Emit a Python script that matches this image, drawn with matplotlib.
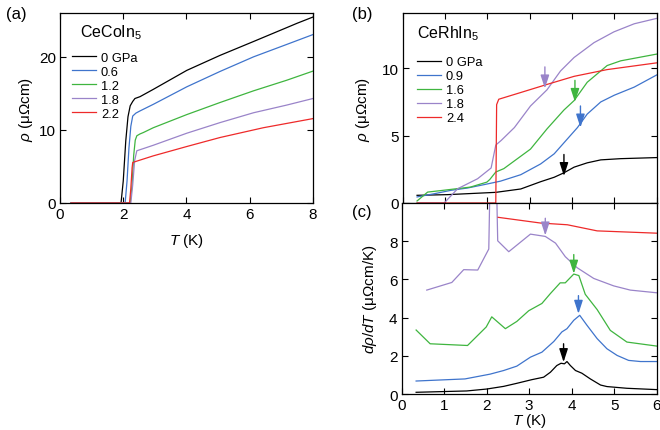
import numpy as np
import matplotlib
matplotlib.use("Agg")
import matplotlib.pyplot as plt

plt.rcParams["font.family"] = ["Liberation Sans", "DejaVu Sans"]
plt.rcParams["mathtext.fontset"] = "custom"
plt.rcParams["mathtext.rm"] = "Liberation Sans"
plt.rcParams["mathtext.it"] = "Liberation Sans:italic"
plt.rcParams["font.size"] = 10

c_k = "#000000"
c_b = "#3f74cc"
c_g = "#3fb53f"
c_p = "#9a84c9"
c_r = "#ee2a2a"

# ---- CeCoIn5, rho(T) ----
co_labels = ["0 GPa", "0.6", "1.2", "1.8", "2.2"]
co_T = [
    [0.35, 1.93, 2.0, 2.08, 2.15, 2.22, 2.3, 2.37, 2.53, 2.95, 4.01, 5.06,
     6.12, 7.17, 7.5, 8.0],
    [0.35, 2.06, 2.12, 2.18, 2.24, 2.3, 2.4, 2.53, 2.95, 4.01, 5.06, 6.12,
     7.17, 8.0],
    [0.35, 2.22, 2.28, 2.33, 2.38, 2.43, 2.53, 2.64, 2.95, 4.01, 5.06, 6.12,
     7.17, 8.0],
    [0.35, 2.24, 2.3, 2.36, 2.43, 2.64, 2.95, 4.01, 5.06, 6.12, 7.17, 8.0],
    [0.35, 2.2, 2.24, 2.28, 2.3, 2.53, 2.95, 4.01, 5.06, 6.43, 8.0],
]
co_rho = [
    [0.0, 0.0, 3.0, 8.5, 11.8, 13.3, 13.9, 14.3, 14.55, 15.55, 18.15, 20.2,
     22.1, 24.0, 24.6, 25.45],
    [0.0, 0.0, 3.0, 7.5, 10.5, 11.9, 12.3, 12.6, 13.5, 15.9, 18.0, 20.0,
     21.7, 23.05],
    [0.0, 0.0, 2.5, 6.5, 8.6, 9.2, 9.45, 9.65, 10.3, 12.1, 13.75, 15.35,
     16.8, 18.05],
    [0.0, 0.0, 2.5, 5.8, 7.15, 7.45, 7.9, 9.55, 11.0, 12.35, 13.4, 14.3],
    [0.0, 0.0, 2.0, 4.8, 5.55, 5.87, 6.45, 7.73, 8.96, 10.3, 11.55],
]

# ---- CeRhIn5, rho(T) ----
rh_labels = ["0 GPa", "0.9", "1.6", "1.8", "2.4"]
rh_T = [
    [0.34, 1.06, 1.53, 2.2, 2.79, 3.26, 3.58, 3.81, 4.05, 4.36, 4.68, 5.15, 6.0],
    [0.34, 0.75, 1.14, 1.53, 1.92, 2.31, 2.79, 3.26, 3.58, 3.89, 4.13, 4.36,
     4.68, 5.0, 5.47, 6.0],
    [0.34, 0.59, 0.9, 1.6, 1.99, 2.06, 2.2, 2.39, 3.02, 3.41, 3.81, 4.05, 4.36,
     4.83, 5.15, 6.0],
    [0.34, 0.98, 1.3, 1.77, 2.09, 2.2, 2.33, 2.64, 3.02, 3.41, 3.73, 4.05,
     4.52, 4.99, 5.47, 6.0],
    [0.34, 2.2, 2.22, 2.27, 2.79, 3.41, 4.05, 4.83, 6.0],
]
rh_rho = [
    [0.57, 0.62, 0.69, 0.79, 1.04, 1.58, 1.91, 2.24, 2.66, 2.98, 3.2, 3.29, 3.37],
    [0.45, 0.69, 0.94, 1.11, 1.36, 1.62, 2.1, 2.9, 3.65, 4.75, 5.6, 6.6,
     7.5, 8.0, 8.6, 9.5],
    [0.15, 0.81, 0.92, 1.18, 1.55, 1.75, 2.3, 2.55, 4.0, 5.5, 6.9, 7.6, 8.96,
     10.2, 10.55, 11.05],
    [0.0, 0.0, 1.06, 1.8, 2.6, 4.3, 4.65, 5.6, 7.2, 8.4, 9.8, 10.8,
     11.9, 12.7, 13.3, 13.7],
    [0.0, 0.0, 7.3, 7.7, 8.2, 8.8, 9.4, 9.9, 10.4],
]

# ---- CeRhIn5, d rho / dT ----
dr_T = [
    [0.34, 1.53, 2.0, 2.4, 2.71, 3.06, 3.34, 3.5, 3.65, 3.75, 3.83, 3.89,
     3.97, 4.09, 4.24, 4.44, 4.68, 4.83, 5.3, 6.0],
    [0.34, 1.49, 2.08, 2.4, 2.71, 3.03, 3.3, 3.58, 3.77, 3.89, 4.05, 4.19,
     4.36, 4.6, 4.83, 5.07, 5.34, 5.62, 6.0],
    [0.34, 0.67, 1.55, 1.99, 2.12, 2.44, 2.71, 2.99, 3.3, 3.5, 3.73, 3.85,
     4.05, 4.17, 4.32, 4.6, 4.91, 5.3, 6.0],
    [0.59, 1.18, 1.46, 1.79, 2.05, 2.15, 2.26, 2.52, 3.03, 3.38, 3.62, 3.85,
     4.13, 4.52, 4.99, 5.38, 6.0],
    [2.27, 3.27, 3.9, 4.6, 6.0],
]
dr_val = [
    [0.09, 0.16, 0.26, 0.4, 0.56, 0.75, 0.88, 1.14, 1.49, 1.61, 1.58, 1.7,
     1.49, 1.23, 1.09, 0.79, 0.47, 0.39, 0.3, 0.23],
    [0.68, 0.79, 1.04, 1.23, 1.46, 1.93, 2.19, 2.75, 3.25, 3.42, 3.86, 4.12,
     3.6, 2.9, 2.37, 2.02, 1.76, 1.7, 1.7],
    [3.35, 2.63, 2.54, 3.51, 4.04, 3.42, 3.8, 4.36, 4.74, 5.26, 5.82, 5.82,
     6.28, 6.2, 5.22, 4.42, 3.33, 2.72, 2.51],
    [5.44, 5.84, 6.51, 6.49, 7.59, 20.0, 8.02, 7.45, 8.37, 8.25, 7.9, 7.19,
     6.61, 6.05, 5.66, 5.44, 5.3],
    [9.25, 8.95, 8.86, 8.54, 8.42],
]

colors = [c_k, c_b, c_g, c_p, c_r]

# arrows: (T, tail, tip) for each pressure
arr_b = [(3.81, 3.6, 2.0), (4.2, 7.2, 5.6), (4.07, 9.1, 7.5), (3.36, 10.1, 8.5)]
arr_c = [(3.81, 2.63, 1.67), (4.16, 5.15, 4.2), (4.05, 7.3, 6.3), (3.38, 9.2, 8.3)]

fig = plt.figure(figsize=(6.6, 4.31), dpi=100)
ax_a = fig.add_axes([0.0909, 0.5267, 0.3833, 0.4408])
ax_b = fig.add_axes([0.6101, 0.5267, 0.3848, 0.4408])
ax_c = fig.add_axes([0.6086, 0.0835, 0.3863, 0.4432])

for ax in (ax_a, ax_b, ax_c):
    ax.tick_params(direction="in", top=True, right=True, length=4, width=0.8,
                   labelsize=11, pad=3)
    for s in ax.spines.values():
        s.set_linewidth(0.9)

lw = 0.9
leg_kw = dict(loc="upper left", frameon=False, fontsize=9.3, handlelength=1.9,
              handletextpad=0.35, labelspacing=0.15, borderpad=0,
              borderaxespad=0)

for T, r, c, lab in zip(co_T, co_rho, colors, co_labels):
    ax_a.plot(T, r, color=c, lw=lw, label=lab)
ax_a.set_xlim(0, 8)
ax_a.set_ylim(0, 26)
ax_a.set_xticks([0, 2, 4, 6, 8])
ax_a.set_yticks([0, 10, 20])
ax_a.set_xlabel(r"$T$ (K)", fontsize=11, labelpad=7)
ax_a.set_ylabel(r"$\rho$ (μΩcm)", fontsize=11, labelpad=3)
ax_a.legend(bbox_to_anchor=(0.047, 0.795), **leg_kw)
ax_a.text(0.079, 0.9, "CeCoIn$_5$", transform=ax_a.transAxes, fontsize=11.5,
          ha="left", va="center")

for T, r, c, lab in zip(rh_T, rh_rho, colors, rh_labels):
    ax_b.plot(T, r, color=c, lw=lw, label=lab)
ax_b.set_xlim(0, 6)
ax_b.set_ylim(0, 14.1)
ax_b.set_xticks(range(7))
ax_b.set_xticklabels([])
ax_b.set_yticks([0, 5, 10])
ax_b.set_ylabel(r"$\rho$ (μΩcm)", fontsize=11, labelpad=7)
ax_b.legend(bbox_to_anchor=(0.056, 0.772), **leg_kw)
ax_b.text(0.056, 0.895, "CeRhIn$_5$", transform=ax_b.transAxes, fontsize=11.5,
          ha="left", va="center")

for T, v, c in zip(dr_T, dr_val, colors):
    ax_c.plot(T, v, color=c, lw=lw)
ax_c.set_xlim(0, 6)
ax_c.set_ylim(0, 10)
ax_c.set_xticks(range(7))
ax_c.set_yticks([0, 2, 4, 6, 8])
ax_c.set_xlabel(r"$T$ (K)", fontsize=11, labelpad=-1)
ax_c.set_ylabel(r"$d\rho/dT$ (μΩcm/K)", fontsize=11, labelpad=7)

for ax, arrows in ((ax_b, arr_b), (ax_c, arr_c)):
    for (t, tail, tip), c in zip(arrows, colors):
        ax.annotate("", xy=(t, tip), xytext=(t, tail),
                    arrowprops=dict(arrowstyle="-|>,head_length=0.8,head_width=0.26",
                                    color=c, lw=1.0, shrinkA=0, shrinkB=0,
                                    mutation_scale=10))

fig.text(16 / 660, 1 - 15 / 431, "(a)", fontsize=12, ha="center", va="center")
fig.text(362 / 660, 1 - 15 / 431, "(b)", fontsize=12, ha="center", va="center")
fig.text(362 / 660, 1 - 212 / 431, "(c)", fontsize=12, ha="center", va="center")

fig.savefig("out.png", dpi=100)
